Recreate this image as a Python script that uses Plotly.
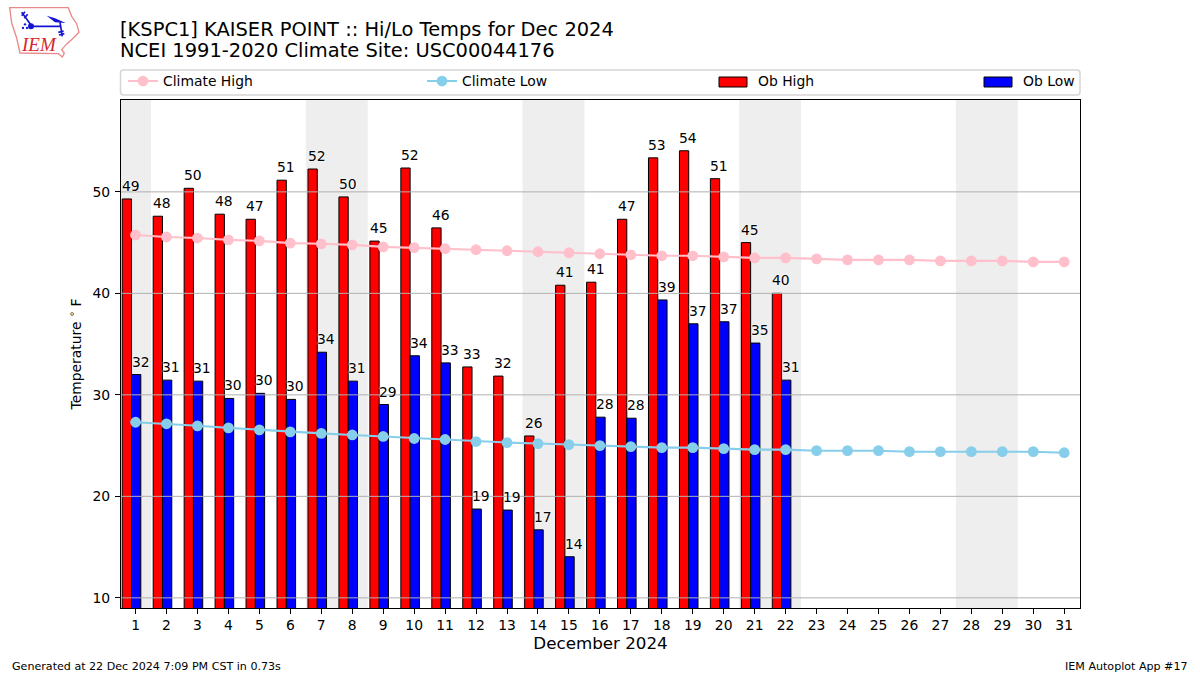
import base64
import plotly.graph_objects as go

# ---- data ----
days = list(range(1, 32))
ob_days = list(range(1, 23))
ob_high = [49.3, 47.6, 50.35, 47.8, 47.3, 51.15, 52.25, 49.5, 45.15, 52.35, 46.45,
           32.75, 31.85, 25.95, 40.8, 41.1, 47.3, 53.35, 54.05, 51.3, 45.0, 40.0]
ob_low = [32.0, 31.45, 31.35, 29.65, 30.15, 29.55, 34.2, 31.35, 29.05, 33.85, 33.15,
          18.75, 18.65, 16.7, 14.05, 27.8, 27.7, 39.35, 37.0, 37.2, 35.1, 31.45]
high_labels = [49, 48, 50, 48, 47, 51, 52, 50, 45, 52, 46, 33, 32, 26, 41, 41, 47, 53, 54, 51, 45, 40]
low_labels = [32, 31, 31, 30, 30, 30, 34, 31, 29, 34, 33, 19, 19, 17, 14, 28, 28, 39, 37, 37, 35, 31]
climate_high = [45.75, 45.55, 45.45, 45.27, 45.17, 44.95, 44.88, 44.78, 44.58, 44.5, 44.4, 44.3, 44.2, 44.1,
                44.0, 43.9, 43.8, 43.7, 43.7, 43.6, 43.5, 43.5, 43.4, 43.3, 43.3, 43.3, 43.2, 43.2,
                43.2, 43.1, 43.1]
climate_low = [27.3, 27.15, 26.95, 26.75, 26.55, 26.35, 26.2, 26.05, 25.9, 25.7, 25.6, 25.4, 25.3, 25.2,
               25.1, 25.0, 24.9, 24.8, 24.8, 24.7, 24.6, 24.6, 24.5, 24.5, 24.5, 24.4, 24.4, 24.4,
               24.4, 24.4, 24.3]
weekend_spans = [(0.5, 1.5), (6.5, 8.5), (13.5, 15.5), (20.5, 22.5), (27.5, 29.5)]
y_ticks = [10, 20, 30, 40, 50]

# ---- layout constants ----
W, H = 1200, 675
L, R, T, B = 121, 1080, 100, 608
FONT = "DejaVu Sans"
def px(x): return (x - L) / (R - L)
def py(y): return (B - y) / (B - T)

BAR_W = 0.3
HIGH_OFF = -0.43
LOW_OFF = -0.13

fig = go.Figure()
fig.add_bar(x=ob_days, y=ob_high, name="Ob High", width=BAR_W, offset=HIGH_OFF,
            marker=dict(color="#ff0000", line=dict(color="black", width=1)), showlegend=False)
fig.add_bar(x=ob_days, y=ob_low, name="Ob Low", width=BAR_W, offset=LOW_OFF,
            marker=dict(color="#0000ff", line=dict(color="black", width=1)), showlegend=False)
fig.add_scatter(x=days, y=climate_high, name="Climate High", mode="lines+markers",
                line=dict(color="#ffc0cb", width=2.1), marker=dict(color="#ffc0cb", size=10.8), legend="legend")
fig.add_scatter(x=days, y=climate_low, name="Climate Low", mode="lines+markers",
                line=dict(color="#87ceeb", width=2.1), marker=dict(color="#87ceeb", size=10.8), legend="legend2")
# legend rows for the bars: the wide swatches are drawn as shapes below
fig.add_scatter(x=[None], y=[None], name="Ob High", mode="lines", line=dict(color="rgba(0,0,0,0)", width=1),
                legend="legend3", hoverinfo="skip")
fig.add_scatter(x=[None], y=[None], name="Ob Low", mode="lines", line=dict(color="rgba(0,0,0,0)", width=1),
                legend="legend4", hoverinfo="skip")

shapes = []
for a, b in weekend_spans:
    shapes.append(dict(type="rect", xref="x", yref="paper", x0=a, x1=b, y0=0, y1=1,
                       fillcolor="#eeeeee", line_width=0, layer="below"))
for t in y_ticks:
    shapes.append(dict(type="line", xref="paper", yref="y", x0=0, x1=1, y0=t, y1=t,
                       line=dict(color="#b0b0b0", width=1), layer="above"))
# legend frame
x0, x1, y0, y1, r = px(120.5), px(1080), py(95), py(70), 3
rx, ry = r / (R - L), r / (B - T)
shapes.append(dict(type="path", xref="paper", yref="paper", layer="below",
    path=f"M{x0+rx},{y0} L{x1-rx},{y0} Q{x1},{y0} {x1},{y0+ry} L{x1},{y1-ry} Q{x1},{y1} {x1-rx},{y1} "
         f"L{x0+rx},{y1} Q{x0},{y1} {x0},{y1-ry} L{x0},{y0+ry} Q{x0},{y0} {x0+rx},{y0} Z",
    line=dict(color="#d5d5d5", width=1.5), fillcolor="white"))
# legend swatches for the bars
for col, sx in (("#ff0000", 719), ("#0000ff", 984)):
    shapes.append(dict(type="rect", xref="paper", yref="paper", x0=px(sx), x1=px(sx + 28), y0=py(87), y1=py(77),
                       fillcolor=col, line=dict(color="black", width=1), layer="above"))

ann = []
label_font = dict(family=FONT, size=13.9, color="black", shadow="0 0 2px white, 0 0 2px white")
for d, v, t in zip(ob_days, ob_high, high_labels):
    ann.append(dict(x=d + HIGH_OFF, y=v, text=str(t), showarrow=False, xanchor="left", yanchor="bottom",
                    yshift=3, xshift=-2, font=label_font))
for d, v, t in zip(ob_days, ob_low, low_labels):
    ann.append(dict(x=d + LOW_OFF, y=v, text=str(t), showarrow=False, xanchor="left", yanchor="bottom",
                    yshift=3, xshift=-2, font=label_font))

def page_text(x, y, text, size, xanchor="left", **kw):
    ann.append(dict(xref="paper", yref="paper", x=px(x), y=py(y), text=text, showarrow=False, xanchor=xanchor,
                    yanchor="middle", font=dict(family=FONT, size=size, color="black"), **kw))

page_text(118, 29, "[KSPC1] KAISER POINT :: Hi/Lo Temps for Dec 2024", 19.44)
page_text(118, 50.5, "NCEI 1991-2020 Climate Site: USC00044176", 19.44)
page_text(10, 666, "Generated at 22 Dec 2024 7:09 PM CST in 0.73s", 11.1)
page_text(1190, 666, "IEM Autoplot App #17", 11.1, xanchor="right")
ann.append(dict(xref="paper", yref="paper", x=px(19), y=py(45), text="<i>IEM</i>", showarrow=False,
                xanchor="left", yanchor="middle", font=dict(family="Liberation Serif", size=19, color="#d8262c")))

# logo artwork (outline and weather symbols); the lettering is the annotation above
svg = """<svg xmlns="http://www.w3.org/2000/svg" viewBox="0 0 240 180" width="240" height="180">
<path d="M14,14 L190,14 L200,40 L215,62 L222,88 L202,108 L186,122 L170,140 L178,150 L172,162 L160,152 L45,150 L35,105 L20,60 Z"
 fill="white" stroke="#e88a8a" stroke-width="4"/>
<path d="M78,70 H168 M50,28 L78,66 M50,38 L60,26 M58,46 L68,34 M165,58 L172,100 M160,88 L176,84 M162,96 L178,92"
 stroke="#1414d2" stroke-width="5" fill="none"/>
<circle cx="78" cy="70" r="9" fill="#1414d2"/>
<path d="M125,38 L150,46 L182,60 L150,58 Z" fill="#1414d2"/>
<circle cx="60" cy="64" r="3.5" fill="#1414d2"/><circle cx="54" cy="75" r="3.5" fill="#1414d2"/><circle cx="66" cy="75" r="3.5" fill="#1414d2"/>
</svg>"""
logo = "data:image/svg+xml;base64," + base64.b64encode(svg.encode()).decode()

def legend_at(x):
    return dict(x=px(x), y=py(81.5), xanchor="left", yanchor="middle", bgcolor="rgba(0,0,0,0)",
                borderwidth=0, orientation="h", font=dict(family=FONT, size=13.9, color="black"),
                itemwidth=30, itemclick=False, itemdoubleclick=False)

fig.update_layout(
    width=W, height=H, autosize=False, template=None,
    margin=dict(l=L, r=W - R, t=T, b=H - B, pad=0),
    paper_bgcolor="white", plot_bgcolor="white",
    font=dict(family=FONT, size=13.9, color="black"),
    barmode="overlay", showlegend=True,
    legend=legend_at(123), legend2=legend_at(422), legend3=legend_at(718), legend4=legend_at(983),
    shapes=shapes, annotations=ann,
    images=[dict(source=logo, xref="paper", yref="paper", x=px(5), y=py(3), sizex=80 / (R - L), sizey=60 / (B - T),
                 xanchor="left", yanchor="top", sizing="stretch", layer="above")],
    xaxis=dict(range=[0.53, 31.51], tickmode="array", tickvals=days, ticktext=[str(d) for d in days],
               ticks="outside", ticklen=5, tickwidth=1, tickcolor="black", showgrid=False, zeroline=False,
               showline=True, mirror=True, linecolor="black", linewidth=1,
               tickfont=dict(family=FONT, size=13.9), ticklabelstandoff=-1,
               title=dict(text="December 2024", font=dict(family=FONT, size=16.7), standoff=5)),
    yaxis=dict(range=[9, 59.05], tickmode="array", tickvals=y_ticks, ticks="outside", ticklen=5, tickwidth=1,
               tickcolor="black", showgrid=False, zeroline=False, showline=True, mirror=True, linecolor="black",
               linewidth=1, tickfont=dict(family=FONT, size=13.9), ticklabelstandoff=2,
               title=dict(text="Temperature <sup>∘</sup> F", font=dict(family=FONT, size=13.9), standoff=7)),
)
fig.write_html("out.html", config={"displayModeBar": False},
               post_script="document.body.style.margin='0';document.body.style.overflow='hidden';")
